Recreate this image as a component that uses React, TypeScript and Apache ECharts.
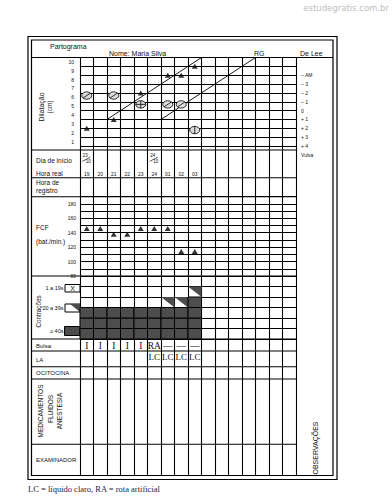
import React, { useEffect, useRef } from 'react';
import * as echarts from 'echarts';

const hours = ['19', '20', '21', '22', '23', '24', '01', '02', '03'];
const startDayCols = [0, 5];
const startDays = ['23', '24'];
const startMonths = ['10', '10'];
const dilatationLabels = ['1', '2', '3', '4', '5', '6', '7', '8', '9', '10'];
const deLeeLabels = ['– AM', '– 3', '– 2', '– 1', '0', '+ 1', '+ 2', '+ 3', '+ 4', 'Vulva'];
const dilatationCols = [0, 2, 4, 6, 7, 8];
const dilatationValues = [2, 3, 6, 8, 8, 9];
const descentCols = [0, 2, 4, 6, 7, 8];
const descentValues = [-1.7, -1.7, -0.7, -0.7, -0.7, 2.2];
const descentMarks = ['diag', 'diag', 'cross', 'diag', 'diag', 'vert'];
const alertLine = [[2, 3], [9, 10]];
const actionLine = [[6, 3], [13, 10]];
const fcfValues = [146, 146, 138, 138, 146, 146, 146, 114, 114];
const contractionsLong = [3, 3, 3, 3, 3, 3, 3, 3, 4];
const contractionsMedium = [0, 0, 0, 0, 0, 0, 1, 1, 1];
const bolsa = ['I', 'I', 'I', 'I', 'I', 'RA', '—', '—', '—'];
const liquido = ['', '', '', '', '', 'LC', 'LC', 'LC', 'LC'];

const SANS = 'Liberation Sans, Arial, sans-serif';
const SERIF = 'Liberation Serif, Times New Roman, serif';
const INK = '#111';

export default function App() {
  const ref = useRef<HTMLDivElement>(null);
  useEffect(() => {
    document.body.style.margin = '0';
    const chart = echarts.init(ref.current!, null, { renderer: 'svg' });
    const GL = 80, GW = 216;
    const Y = { head: 57.5, dilBottom: 146, day: 150, reg: 177.7, fcf: 196.7, con: 276, bolsa: 339, la: 351, oci: 366.7, med: 379, exa: 444.3, bottom: 475.5 };
    const rowH = (Y.dilBottom - Y.head) / 10;
    const deLeeTop = Y.dilBottom - 8 * rowH;
    const deLeeH = 9 * rowH;

    const grids = [
      { left: GL, width: GW, top: Y.head, height: Y.bottom - Y.head },
      { left: GL, width: GW, top: Y.head, height: Y.dilBottom - Y.head },
      { left: GL, width: GW, top: deLeeTop, height: deLeeH },
      { left: GL, width: GW, top: Y.day, height: Y.reg - Y.day },
      { left: GL, width: GW, top: Y.fcf, height: Y.con - Y.fcf },
      { left: GL, width: GW, top: Y.con, height: Y.bolsa - Y.con },
      { left: GL, width: GW, top: Y.bolsa, height: Y.la - Y.bolsa },
      { left: GL, width: GW, top: Y.la, height: Y.oci - Y.la },
    ];
    const black = { color: '#000', width: 1.1 };
    const xAxes = grids.map((_, i) => ({
      gridIndex: i, type: 'value', min: 0, max: 16, interval: 1,
      show: i === 0,
      axisLine: { show: false }, axisTick: { show: false }, axisLabel: { show: false },
      splitLine: { show: i === 0, lineStyle: black },
    }));
    const hidden = (g: number) => ({ gridIndex: g, type: 'value', min: 0, max: 1, show: false });
    const labelStyle = { fontSize: 5, color: INK, fontFamily: SANS };
    const yAxes: any[] = [
      hidden(0),
      { gridIndex: 1, type: 'value', position: 'left', min: 0, max: 10, interval: 1,
        axisLine: { show: false }, axisTick: { show: false }, axisLabel: { show: false },
        splitLine: { show: true, lineStyle: black } },
      { gridIndex: 1, type: 'category', position: 'left', data: dilatationLabels, boundaryGap: true,
        axisLine: { show: false }, axisTick: { show: false }, splitLine: { show: false },
        axisLabel: { ...labelStyle, margin: 6 } },
      { gridIndex: 2, type: 'value', position: 'right', inverse: true, min: -4, max: 5, interval: 1,
        axisLine: { show: false }, axisTick: { show: false }, splitLine: { show: false },
        axisLabel: { ...labelStyle, margin: 5, align: 'left', formatter: (v: number) => deLeeLabels[Math.round(v) + 4] } },
      hidden(3),
      { gridIndex: 4, type: 'value', position: 'left', min: 80, max: 190, interval: 10,
        axisLine: { show: false }, axisTick: { show: false }, axisLabel: { show: false },
        splitLine: { show: true, lineStyle: black } },
      { gridIndex: 4, type: 'value', position: 'left', min: 80, max: 190, interval: 20,
        axisLine: { show: false }, axisTick: { show: false }, splitLine: { show: false },
        axisLabel: { ...labelStyle, margin: 4, showMaxLabel: false } },
      { gridIndex: 5, type: 'value', position: 'left', min: 0, max: 6, interval: 1,
        axisLine: { show: false }, axisTick: { show: false }, axisLabel: { show: false },
        splitLine: { show: true, lineStyle: black } },
      hidden(6),
      hidden(7),
    ];

    const contractionData: number[][] = [];
    contractionsLong.forEach((n, c) => {
      for (let r = 0; r < n; r++) contractionData.push([c, r, 0]);
      for (let r = 0; r < contractionsMedium[c]; r++) contractionData.push([c, n + r, 1]);
    });

    const txt = (x: number, y: number, text: string, o: any = {}) => ({
      type: 'text', x, y, rotation: o.rotation || 0, silent: true,
      style: {
        text, fontSize: o.size || 6.5, fontFamily: o.family || SANS, fill: o.fill || INK,
        align: o.align || 'left', verticalAlign: o.va || 'middle', fontWeight: 'normal',
      },
    });
    const hline = (x1: number, x2: number, y: number, w = 1.1) => ({
      type: 'line', silent: true, shape: { x1, y1: y, x2, y2: y }, style: { stroke: '#000', lineWidth: w },
    });
    const L = 31.5, R = 333;
    const graphic: any[] = [
      { type: 'rect', silent: true, shape: { x: 28, y: 36.5, width: 309, height: 443 }, style: { fill: 'none', stroke: '#000', lineWidth: 1.2 } },
      { type: 'rect', silent: true, shape: { x: L, y: 40, width: R - L, height: Y.bottom - 40 }, style: { fill: 'none', stroke: '#000', lineWidth: 1.2 } },
      hline(L, R, Y.head),
      ...[Y.day, Y.reg, Y.fcf, Y.con, Y.bolsa, Y.la, Y.oci, Y.med, Y.exa].map((y) => hline(L, GL + GW, y)),
      txt(50, 46, 'Partograma', { size: 7 }),
      txt(109, 53, 'Nome: Maria Silva', { size: 7 }),
      txt(254, 53, 'RG', { size: 7 }),
      txt(300, 53, 'De Lee', { size: 7 }),
      txt(41.5, 107, 'Dilatação', { size: 7, rotation: Math.PI / 2, align: 'center' }),
      txt(49.5, 107, '(cm)', { size: 6.5, rotation: Math.PI / 2, align: 'center' }),
      txt(36, 160, 'Dia de início'),
      txt(36, 173.5, 'Hora real'),
      txt(36, 182.5, 'Hora de'),
      txt(36, 190, 'registro'),
      txt(36, 227.5, 'FCF'),
      txt(36, 241.5, '(bat./min.)'),
      txt(38, 311.5, 'Contrações', { size: 6.3, rotation: Math.PI / 2, align: 'center' }),
      txt(63.5, 288, '1 a 19s', { size: 5.5, align: 'right' }),
      txt(63.5, 307.5, '20 a 39s', { size: 5.5, align: 'right' }),
      txt(63.5, 330.5, '≥ 40s', { size: 5.5, align: 'right' }),
      { type: 'rect', silent: true, shape: { x: 65, y: 284.5, width: 15, height: 7.5 }, style: { fill: '#fff', stroke: '#000', lineWidth: 1 } },
      txt(72.5, 288.5, 'X', { size: 7, align: 'center' }),
      { type: 'rect', silent: true, shape: { x: 65, y: 304, width: 15, height: 8 }, style: { fill: '#fff', stroke: '#000', lineWidth: 1 } },
      { type: 'polygon', silent: true, shape: { points: [[70, 304], [80, 304], [80, 312]] }, style: { fill: '#4d4d4d' } },
      { type: 'rect', silent: true, shape: { x: 64.5, y: 326.5, width: 15.5, height: 9 }, style: { fill: '#4d4d4d', stroke: '#000', lineWidth: 1 } },
      txt(36, 345.5, 'Bolsa', { size: 6 }),
      txt(36, 360, 'LA', { size: 6 }),
      txt(36, 373, 'OCITOCINA', { size: 6 }),
      txt(40.5, 411, 'MEDICAMENTOS', { size: 6.5, rotation: Math.PI / 2, align: 'center' }),
      txt(50, 409, 'FLUIDOS', { size: 6.5, rotation: Math.PI / 2, align: 'center' }),
      txt(59.5, 411, 'ANESTESIA', { size: 6.5, rotation: Math.PI / 2, align: 'center' }),
      txt(36, 460, 'EXAMINADOR', { size: 6 }),
      txt(315, 448, 'OBSERVAÇÕES', { size: 7, rotation: Math.PI / 2, align: 'center' }),
      txt(28, 488.5, 'LC = líquido claro, RA = rota artificial', { size: 8.5, family: SERIF, fill: '#1c1c3c', rotation: 0.0005 }),
      txt(389, 8, 'estudegratis.com.br', { size: 8.5, family: 'DejaVu Sans, sans-serif', fill: '#bdbdbd', align: 'right' }),
    ];

    const lineSeries = (data: number[][]) => ({
      type: 'line', xAxisIndex: 1, yAxisIndex: 1, data, symbol: 'none', silent: true,
      lineStyle: { color: '#000', width: 0.9 }, z: 3,
    });
    const textItem = (text: string, x: number, y: number, size: number, family: string, rot = 0) => ({
      type: 'text', x, y, rotation: rot,
      style: { text, fontSize: size, fontFamily: family, fill: INK, align: 'center', verticalAlign: 'middle' },
    });

    chart.setOption({
      animation: false,
      textStyle: { fontFamily: SANS },
      grid: grids.map((g) => ({ ...g, show: false })),
      xAxis: xAxes,
      yAxis: yAxes,
      graphic,
      series: [
        lineSeries(alertLine),
        lineSeries(actionLine),
        {
          type: 'scatter', xAxisIndex: 1, yAxisIndex: 1, symbol: 'triangle', symbolSize: [6, 5],
          itemStyle: { color: '#000' }, silent: true, z: 4,
          data: dilatationCols.map((c, i) => [c + 0.5, dilatationValues[i]]),
        },
        {
          type: 'custom', xAxisIndex: 2, yAxisIndex: 3, silent: true, z: 4, itemStyle: { color: INK },
          data: descentCols.map((c, i) => [c + 0.5, descentValues[i]]),
          renderItem: (params: any, api: any) => {
            const p = api.coord([api.value(0), api.value(1)]);
            const kind = descentMarks[params.dataIndex];
            const st = { stroke: '#000', lineWidth: 0.8 };
            const children: any[] = [
              { type: 'ellipse', shape: { cx: p[0], cy: p[1], rx: 5, ry: 3.7 }, style: { fill: '#dcdcdc', ...st } },
            ];
            if (kind === 'diag') {
              children.push({ type: 'line', shape: { x1: p[0] - 3.6, y1: p[1] + 2.4, x2: p[0] + 3.6, y2: p[1] - 2.4 }, style: st });
            } else if (kind === 'cross') {
              children.push({ type: 'line', shape: { x1: p[0] - 5, y1: p[1], x2: p[0] + 5, y2: p[1] }, style: st });
              children.push({ type: 'line', shape: { x1: p[0], y1: p[1] - 3.7, x2: p[0], y2: p[1] + 3.7 }, style: st });
            } else {
              children.push({ type: 'line', shape: { x1: p[0], y1: p[1] - 3.7, x2: p[0], y2: p[1] + 3.7 }, style: st });
            }
            return { type: 'group', children };
          },
        },
        {
          type: 'custom', xAxisIndex: 3, yAxisIndex: 4, silent: true, itemStyle: { color: INK },
          data: startDayCols.map((c) => [c + 0.5, 0.7]),
          renderItem: (params: any, api: any) => {
            const p = api.coord([api.value(0), api.value(1)]);
            const i = params.dataIndex;
            return {
              type: 'group', children: [
                textItem(startDays[i], p[0] - 1.5, p[1] - 2.6, 4.5, SANS),
                { type: 'line', shape: { x1: p[0] - 4.5, y1: p[1] + 3, x2: p[0] + 3.5, y2: p[1] - 1 }, style: { stroke: INK, lineWidth: 0.7 } },
                textItem(startMonths[i], p[0] + 1.5, p[1] + 2.8, 4.5, SANS),
              ],
            };
          },
        },
        {
          type: 'custom', xAxisIndex: 3, yAxisIndex: 4, silent: true, itemStyle: { color: INK },
          data: hours.map((_, i) => [i + 0.5, 0.13]),
          renderItem: (params: any, api: any) => {
            const p = api.coord([api.value(0), api.value(1)]);
            return textItem(hours[params.dataIndex], p[0], p[1], 5, SANS);
          },
        },
        {
          type: 'scatter', xAxisIndex: 4, yAxisIndex: 5, symbol: 'triangle', symbolSize: [6, 5],
          itemStyle: { color: '#000' }, silent: true, z: 4,
          data: fcfValues.map((v, i) => [i + 0.5, v]),
        },
        {
          type: 'custom', xAxisIndex: 5, yAxisIndex: 7, silent: true, itemStyle: { color: '#4d4d4d' },
          data: contractionData,
          renderItem: (params: any, api: any) => {
            const c = api.value(0), r = api.value(1), k = api.value(2);
            const tl = api.coord([c, r + 1]);
            const br = api.coord([c + 1, r]);
            if (k === 0) {
              return { type: 'rect', shape: { x: tl[0], y: tl[1], width: br[0] - tl[0], height: br[1] - tl[1] }, style: { fill: '#4d4d4d', stroke: '#000', lineWidth: 1 } };
            }
            return { type: 'polygon', shape: { points: [[tl[0], tl[1]], [br[0], tl[1]], [br[0], br[1]]] }, style: { fill: '#4d4d4d' } };
          },
        },
        {
          type: 'custom', xAxisIndex: 6, yAxisIndex: 8, silent: true, itemStyle: { color: INK },
          data: bolsa.map((_, i) => [i + 0.5, 0.5]),
          renderItem: (params: any, api: any) => {
            const p = api.coord([api.value(0), api.value(1)]);
            return textItem(bolsa[params.dataIndex], p[0], p[1] + 0.5, 9.5, SERIF, 0.0005);
          },
        },
        {
          type: 'custom', xAxisIndex: 7, yAxisIndex: 9, silent: true, itemStyle: { color: INK },
          data: liquido.map((_, i) => [i + 0.5, 0.6]),
          renderItem: (params: any, api: any) => {
            const p = api.coord([api.value(0), api.value(1)]);
            return textItem(liquido[params.dataIndex], p[0], p[1], 9, SERIF, 0.0005);
          },
        },
      ],
    });
    return () => chart.dispose();
  }, []);
  return <div ref={ref} style={{ width: 392, height: 502 }} />;
}
